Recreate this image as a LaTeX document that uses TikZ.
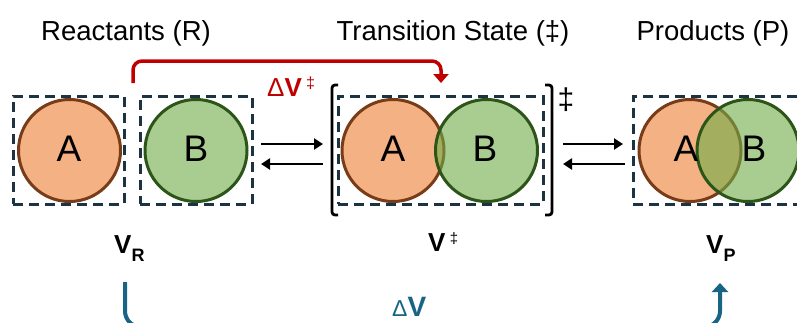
\documentclass[tikz,border=0pt]{standalone}
\usepackage{fontspec}
\setmainfont{Liberation Sans}
\usetikzlibrary{arrows.meta}
\definecolor{aorange}{RGB}{237,125,49}
\definecolor{abrown}{RGB}{120,60,25}
\definecolor{bgreen}{RGB}{112,173,71}
\definecolor{bdark}{RGB}{45,85,25}
\definecolor{dashcol}{RGB}{28,52,66}
\definecolor{dvred}{RGB}{192,0,0}
\definecolor{dvblue}{RGB}{24,100,133}
\newcommand{\fsz}[1]{\fontsize{#1}{#1}\selectfont}
\tikzset{
  molbox/.style={draw=dashcol, line width=3pt, dash pattern=on 10pt off 6pt, rectangle, minimum height=108pt, inner sep=0pt, outer sep=0pt},
  molA/.style={circle, draw=abrown, line width=3pt, fill=aorange, fill opacity=0.6, draw opacity=1, minimum size=102pt, inner sep=0pt, outer sep=0pt},
  molB/.style={circle, draw=bdark, line width=3pt, fill=bgreen, fill opacity=0.6, draw opacity=1, minimum size=102pt, inner sep=0pt, outer sep=0pt},
  letter/.style={font=\fsz{37}, inner sep=0pt},
  title/.style={font=\fsz{27.5}, inner sep=0pt, anchor=base},
  eqarrow/.style={line width=2.8pt, -{Triangle[length=9pt,width=11pt]}},
  bracketline/.style={line width=2.8pt, rounded corners=3pt},
  vlabel/.style={font=\fsz{26}\bfseries, inner sep=0pt, anchor=base west},
}
\begin{document}
\begin{tikzpicture}[x=1pt,y=-1pt]
\clip (0,0) rectangle (797,322);
\fill[white] (0,0) rectangle (797,322);

% titles
\node[title] (tR) at (126,40) {Reactants (R)};
\node[title] (tTS) at (453,40) {Transition State (‡)};
\node[title] (tP) at (713,40) {Products (P)};

% dashed boxes
\node[molbox, minimum width=111pt] (boxR1) at (68.5,150) {};
\node[molbox, minimum width=112pt] (boxR2) at (196,150) {};
\node[molbox, minimum width=205pt] (boxTS) at (440.5,150) {};
\node[molbox, minimum width=172pt] (boxP) at (719,150) {};

% circles
\node[molA] (cRA) at (69.5,150.5) {};
\node[molB] (cRB) at (196,150.5) {};
\node[molA] (cTA) at (393,150.5) {};
\node[molB] (cTB) at (486.5,150.5) {};
\node[molA] (cPA) at (690,150.5) {};
\node[molB] (cPB) at (748,150.5) {};

% letters
\node[letter] (lRA) at (69,149) {A};
\node[letter] (lRB) at (196,149) {B};
\node[letter] (lTA) at (393,149) {A};
\node[letter] (lTB) at (485,149) {B};
\node[letter] (lPA) at (686,149) {A};
\node[letter] (lPB) at (754,149) {B};

% brackets
\coordinate (bl1) at (338,85); \coordinate (bl2) at (332,85);
\coordinate (bl3) at (332,215); \coordinate (bl4) at (338,215);
\draw[bracketline] (bl1) -- (bl2) -- (bl3) -- (bl4);
\coordinate (br1) at (545,85); \coordinate (br2) at (552,85);
\coordinate (br3) at (552,215); \coordinate (br4) at (545,215);
\draw[bracketline] (br1) -- (br2) -- (br3) -- (br4);
\node[font=\fsz{30}, inner sep=0pt] (dag) at (566,100) {‡};

% equilibrium arrows
\coordinate (e1a) at (261,144); \coordinate (e1b) at (323,144);
\coordinate (e2a) at (323,164); \coordinate (e2b) at (261,164);
\draw[eqarrow] (e1a) -- (e1b);
\draw[eqarrow] (e2a) -- (e2b);
\coordinate (e3a) at (563,144); \coordinate (e3b) at (623,144);
\coordinate (e4a) at (625,164); \coordinate (e4b) at (563,164);
\draw[eqarrow] (e3a) -- (e3b);
\draw[eqarrow] (e4a) -- (e4b);

% red activation volume path
\coordinate (rs) at (133,83);
\coordinate (rc) at (441,61);
\coordinate (re) at (441,83);
\draw[dvred, line width=3.5pt, rounded corners=9pt, -{Triangle[length=9pt,width=15pt]}] (rs) |- (rc) -- (re);
\node[dvred, inner sep=0pt, anchor=base west] (dvts) at (267,96)
  {\fsz{26}Δ\textbf{V}\,\raisebox{8pt}{\fsz{16}‡}};

% volume labels
\node[vlabel] (vR) at (114,253) {V\raisebox{-8pt}{\fsz{18}R}};
\node[vlabel] (vTS) at (428,251) {V\,\raisebox{8pt}{\fsz{15}\mdseries ‡}};
\node[vlabel] (vP) at (706,253) {V\raisebox{-8pt}{\fsz{18}P}};

% blue reaction volume path
\coordinate (bs) at (125,282);
\coordinate (bc1) at (125,327);
\coordinate (bc2) at (720,327);
\coordinate (be) at (720,283);
\draw[dvblue, line width=4pt, rounded corners=16pt, -{Triangle[length=9pt,width=16pt]}] (bs) -- (bc1) -- (bc2) -- (be);
\node[dvblue, inner sep=0pt, anchor=base west] (dv) at (392,316)
  {\fsz{23}Δ\fsz{28}\textbf{V}};
\end{tikzpicture}
\end{document}
